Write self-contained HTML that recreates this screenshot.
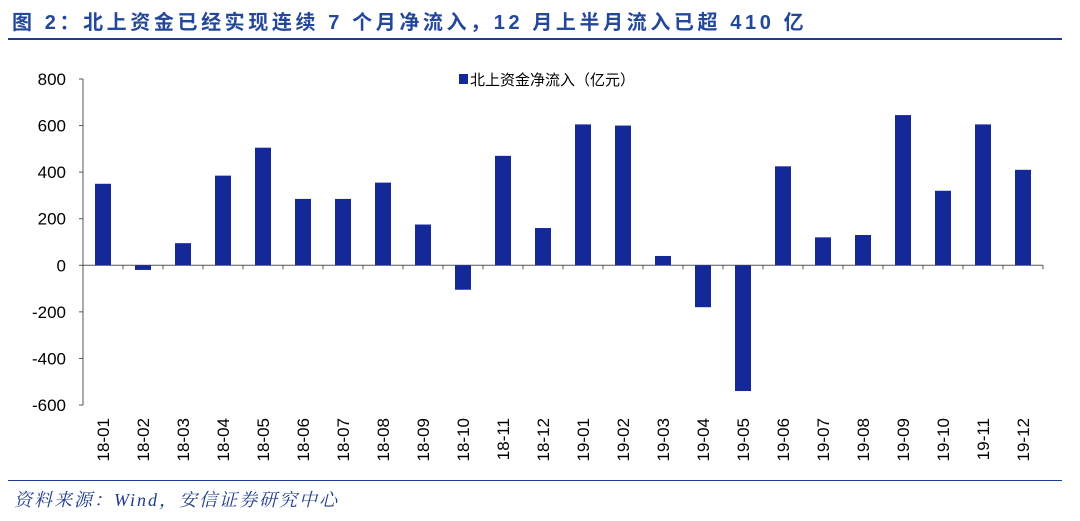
<!DOCTYPE html>
<html><head><meta charset="utf-8"><style>
body{margin:0;background:#fff;width:1080px;height:521px;overflow:hidden;font-family:"Liberation Sans","Noto Sans CJK SC",sans-serif}
#title{position:absolute;left:12px;top:6px;font-size:20px;font-weight:bold;color:#23479a;letter-spacing:3.6px;white-space:nowrap}
#rule1{position:absolute;left:8px;top:38px;width:1054px;height:2px;background:#1e3c8c}
#rule2{position:absolute;left:8px;top:480px;width:1054px;height:1px;background:#1e3c8c}
#src{position:absolute;left:14px;top:486px;font-size:18px;font-style:italic;color:#1e3c8c;letter-spacing:2px;font-family:"Liberation Serif","Noto Serif CJK SC",serif}
svg{position:absolute;left:0;top:0}
</style></head><body>
<div id="title">图 2：北上资金已经实现连续 7 个月净流入，12 月上半月流入已超 410 亿</div>
<div id="rule1"></div>
<svg id="chart" width="1080" height="521"></svg>
<div id="rule2"></div>
<div id="src">资料来源：Wind，安信证券研究中心</div>
<script>
const categories=["18-01","18-02","18-03","18-04","18-05","18-06","18-07","18-08","18-09","18-10","18-11","18-12","19-01","19-02","19-03","19-04","19-05","19-06","19-07","19-08","19-09","19-10","19-11","19-12"];
const values=[350,-20,95,385,505,285,285,355,175,-105,470,160,605,600,40,-180,-540,425,120,130,645,320,605,410];
const yTicks=[800,600,400,200,0,-200,-400,-600];
const svg=document.getElementById('chart');
const NS='http://www.w3.org/2000/svg';
const x0=83,x1=1043,yTop=79,yBot=405,yMax=800,yMin=-600;
const y=v=>yTop+(yMax-v)/(yMax-yMin)*(yBot-yTop);
const step=(x1-x0)/categories.length;
const xc=i=>x0+step*(i+0.5);
function mk(t,a){const e=document.createElementNS(NS,t);for(const k in a)e.setAttribute(k,a[k]);svg.appendChild(e);return e;}
let ax=mk('line',{x1:x0,y1:yTop,x2:x0,y2:yBot,stroke:'#555','stroke-width':1});


yTicks.forEach(v=>{
 const tk=mk('line',{x1:x0-4,y1:y(v),x2:x0,y2:y(v),stroke:'#555'});
 
 
 const t=mk('text',{x:66,y:y(v)+6,'text-anchor':'end','font-size':17,fill:'#000'});
 t.textContent=v;
 
 
});
const zx=mk('line',{x1:x0,y1:y(0),x2:x1,y2:y(0),stroke:'#555'});


categories.forEach((c,i)=>{
 const tk=mk('line',{x1:x0+step*(i+1),y1:y(0),x2:x0+step*(i+1),y2:y(0)+4,stroke:'#555'});
 
 
 const v=values[i];
 const b=mk('rect',{x:xc(i)-8,y:Math.min(y(v),y(0)),width:16,height:Math.abs(y(v)-y(0)),fill:'#14289a'});
 
 
 const t=mk('text',{x:0,y:0,'text-anchor':'end','font-size':17,fill:'#000',transform:`translate(${xc(i)+6},418) rotate(-90)`});
 t.textContent=c;
 
 
});
const lg=mk('rect',{x:459,y:74,width:9,height:10,fill:'#14289a'});


const lt=mk('text',{x:470,y:85,'font-size':15,fill:'#000'});
lt.textContent='北上资金净流入（亿元）';


</script>
</body></html>
